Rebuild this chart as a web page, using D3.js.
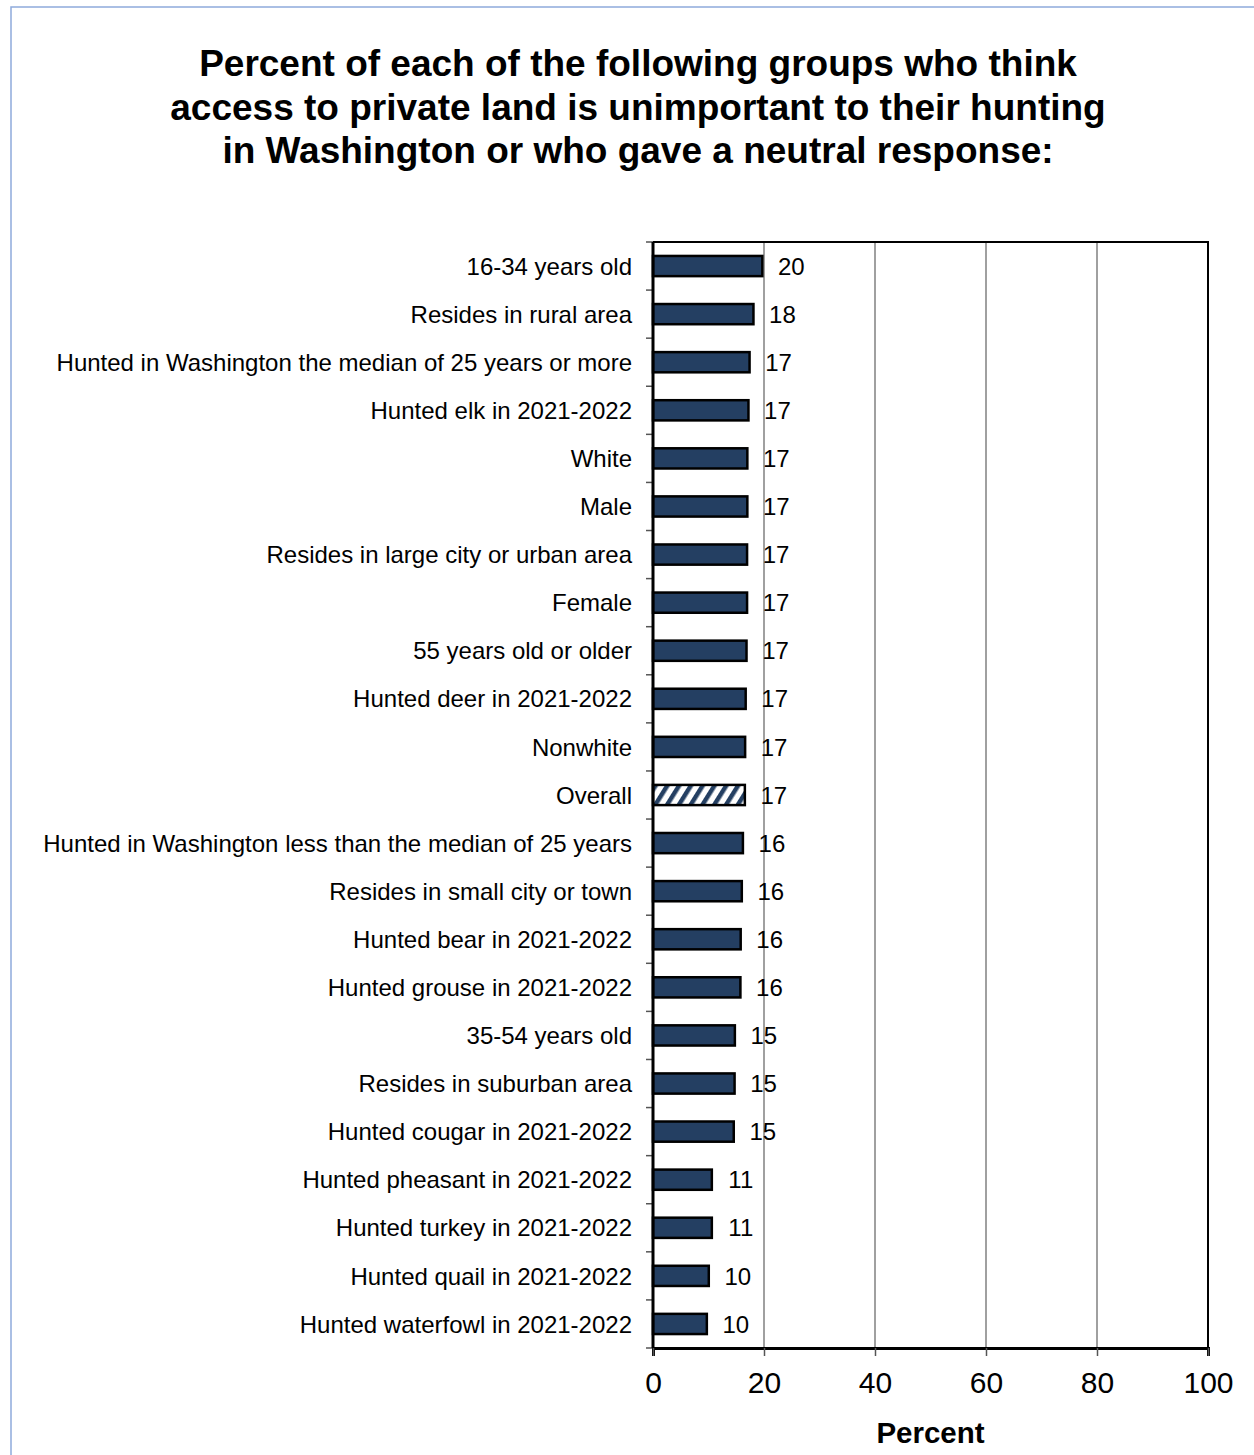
<!DOCTYPE html>
<html>
<head>
<meta charset="utf-8">
<script src="https://cdn.jsdelivr.net/npm/d3@7"></script>
<style>
  html, body { margin: 0; padding: 0; background: #fff; }
  svg { display: block; font-family: "Liberation Sans", Arial, sans-serif; }
</style>
</head>
<body>
<svg id="chart" width="1254" height="1455"></svg>
<script>
// Survey groups, top to bottom
const categories = [
  "16-34 years old",
  "Resides in rural area",
  "Hunted in Washington the median of 25 years or more",
  "Hunted elk in 2021-2022",
  "White",
  "Male",
  "Resides in large city or urban area",
  "Female",
  "55 years old or older",
  "Hunted deer in 2021-2022",
  "Nonwhite",
  "Overall",
  "Hunted in Washington less than the median of 25 years",
  "Resides in small city or town",
  "Hunted bear in 2021-2022",
  "Hunted grouse in 2021-2022",
  "35-54 years old",
  "Resides in suburban area",
  "Hunted cougar in 2021-2022",
  "Hunted pheasant in 2021-2022",
  "Hunted turkey in 2021-2022",
  "Hunted quail in 2021-2022",
  "Hunted waterfowl in 2021-2022"
];

// Percent who rated access unimportant or neutral
const values = [
  19.7, 18.1, 17.4, 17.2, 17.0, 17.0, 16.95, 16.95, 16.85, 16.7, 16.6, 16.55,
  16.2, 16.0, 15.8, 15.75, 14.75, 14.7, 14.55, 10.6, 10.6, 10.05, 9.7
];

const xTicks = [0, 20, 40, 60, 80, 100];

const titleLines = [
  "Percent of each of the following groups who think",
  "access to private land is unimportant to their hunting",
  "in Washington or who gave a neutral response:"
];
const xAxisTitle = "Percent";
const highlight = "Overall";

const data = categories.map((c, i) => ({ label: c, value: values[i] }));

const svg = d3.select("#chart");
const W = 1254, H = 1455;
const plot = { left: 653, right: 1208, top: 242, bottom: 1348 };
const navy = "#243f62";

// outer frame
svg.append("rect")
  .attr("x", 11).attr("y", 7)
  .attr("width", W + 20).attr("height", H + 20)
  .attr("fill", "#fff")
  .attr("stroke", "#8eaadb").attr("stroke-width", 1.5);

// hatch for the overall bar
const defs = svg.append("defs");
const pat = defs.append("pattern")
  .attr("id", "hatch")
  .attr("patternUnits", "userSpaceOnUse")
  .attr("width", 10).attr("height", 10)
  .attr("patternTransform", "rotate(32)");
pat.append("rect").attr("width", 10).attr("height", 10).attr("fill", "#fff");
pat.append("rect").attr("width", 4.5).attr("height", 10).attr("fill", navy);

// title
const title = svg.append("text")
  .attr("text-anchor", "middle")
  .attr("font-weight", "bold")
  .attr("font-size", 37)
  .attr("fill", "#000");
titleLines.forEach((t, i) => {
  title.append("tspan")
    .attr("x", 638)
    .attr("y", 76 + i * 43.5)
    .text(t);
});

const x = d3.scaleLinear().domain([0, 100]).range([plot.left, plot.right]);
const y = d3.scaleBand()
  .domain(categories)
  .range([plot.top, plot.bottom])
  .paddingInner(0.58)
  .paddingOuter(0.29);
const band = (plot.bottom - plot.top) / categories.length;

// vertical gridlines
svg.append("g")
  .selectAll("line")
  .data(xTicks.filter(t => t > 0 && t < 100))
  .join("line")
  .attr("x1", d => x(d)).attr("x2", d => x(d))
  .attr("y1", plot.top).attr("y2", plot.bottom)
  .attr("stroke", "#808080").attr("stroke-width", 1.5);

// plot frame (top and right)
svg.append("path")
  .attr("d", `M${plot.left},${plot.top}H${plot.right}V${plot.bottom}`)
  .attr("fill", "none").attr("stroke", "#000").attr("stroke-width", 2);

// bars
svg.append("g")
  .selectAll("rect")
  .data(data)
  .join("rect")
  .attr("x", x(0))
  .attr("y", d => y(d.label))
  .attr("width", d => x(d.value) - x(0))
  .attr("height", y.bandwidth())
  .attr("fill", d => d.label === highlight ? "url(#hatch)" : navy)
  .attr("stroke", "#000")
  .attr("stroke-width", 2.5);

// value labels
svg.append("g")
  .selectAll("text")
  .data(data)
  .join("text")
  .attr("x", d => x(d.value) + 29)
  .attr("y", d => y(d.label) + y.bandwidth() / 2)
  .attr("dy", "0.36em")
  .attr("text-anchor", "middle")
  .attr("font-size", 24)
  .attr("fill", "#000")
  .text(d => d3.format(".0f")(d.value));

// y axis: category labels and separator ticks
const yAxis = svg.append("g");
yAxis.selectAll("text")
  .data(categories)
  .join("text")
  .attr("x", 632)
  .attr("y", d => y(d) + y.bandwidth() / 2)
  .attr("dy", "0.36em")
  .attr("text-anchor", "end")
  .attr("font-size", 24)
  .attr("fill", "#000")
  .text(d => d);
yAxis.selectAll("line")
  .data(d3.range(categories.length + 1))
  .join("line")
  .attr("x1", plot.left - 7).attr("x2", plot.left)
  .attr("y1", i => plot.top + i * band).attr("y2", i => plot.top + i * band)
  .attr("stroke", "#555").attr("stroke-width", 1.5);
yAxis.append("line")
  .attr("x1", plot.left).attr("x2", plot.left)
  .attr("y1", plot.top).attr("y2", plot.bottom)
  .attr("stroke", "#000").attr("stroke-width", 3);

// x axis
const xAxis = svg.append("g")
  .attr("transform", `translate(0,${plot.bottom})`)
  .call(d3.axisBottom(x).tickValues(xTicks).tickSize(8).tickPadding(16).tickFormat(d3.format("d")));
xAxis.select(".domain").attr("stroke", "#000").attr("stroke-width", 3);
xAxis.selectAll(".tick line").attr("stroke", "#555").attr("stroke-width", 1.5);
xAxis.selectAll(".tick text")
  .attr("font-size", 30)
  .attr("font-family", "'Liberation Sans', Arial, sans-serif")
  .attr("fill", "#000");

svg.append("text")
  .attr("x", x(50))
  .attr("y", 1443)
  .attr("text-anchor", "middle")
  .attr("font-weight", "bold")
  .attr("font-size", 29.5)
  .attr("fill", "#000")
  .text(xAxisTitle);
</script>
</body>
</html>
